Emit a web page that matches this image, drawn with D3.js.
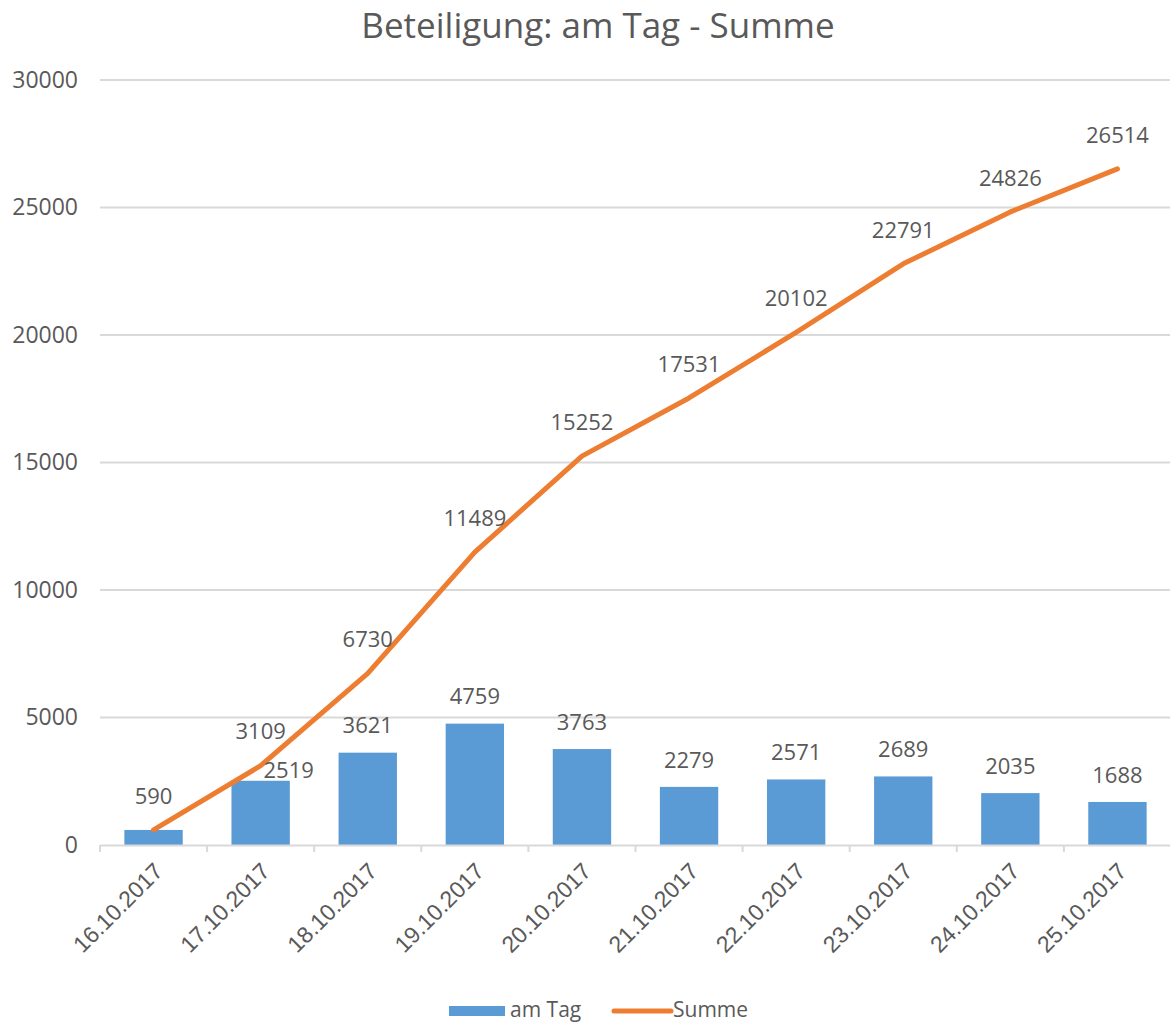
<!DOCTYPE html>
<html lang="de">
<head>
<meta charset="UTF-8">
<title>Beteiligung: am Tag - Summe</title>
<script src="https://d3js.org/d3.v7.min.js"></script>
<style>
  body { margin: 0; background: #fff; }
  svg { display: block; font-family: "Open Sans", sans-serif; }
  .grid line { stroke: #d9d9d9; stroke-width: 2px; }
  .axis text, .label, .legend text { fill: #595959; }
</style>
</head>
<body>
<svg width="1170" height="1024"></svg>
<script>
const dates = ["16.10.2017", "17.10.2017", "18.10.2017", "19.10.2017", "20.10.2017",
               "21.10.2017", "22.10.2017", "23.10.2017", "24.10.2017", "25.10.2017"];
const amTag = [590, 2519, 3621, 4759, 3763, 2279, 2571, 2689, 2035, 1688];
const summe = [590, 3109, 6730, 11489, 15252, 17531, 20102, 22791, 24826, 26514];
const yTicks = [0, 5000, 10000, 15000, 20000, 25000, 30000];

const svg = d3.select("svg");
const plotL = 100, plotR = 1171, plotT = 80, plotB = 845;

const x = d3.scaleBand().domain(dates).range([plotL, plotR]).paddingInner(0.455).paddingOuter(0.2275);
const xc = d => x(d) + x.bandwidth() / 2;
const y = d3.scaleLinear().domain([0, 30000]).range([plotB, plotT]);

// titel
svg.append("text")
  .attr("x", 598).attr("y", 38)
  .attr("text-anchor", "middle")
  .attr("fill", "#595959")
  .style("font-size", "35px")
  .text("Beteiligung: am Tag - Summe");

// gitter
svg.append("g").attr("class", "grid")
  .selectAll("line").data(yTicks.slice(1)).enter().append("line")
  .attr("x1", plotL).attr("x2", plotR)
  .attr("y1", d => y(d)).attr("y2", d => y(d));

// y-achse (nur beschriftung)
const yAxis = svg.append("g").attr("class", "axis")
  .attr("transform", `translate(${plotL},0)`)
  .call(d3.axisLeft(y).tickValues(yTicks).tickSize(0).tickPadding(22).tickFormat(d3.format("d")));
yAxis.select(".domain").remove();
yAxis.selectAll("text").style("font-size", "23px").style("font-family", "Open Sans");

// balken
svg.append("g").selectAll("rect").data(amTag).enter().append("rect")
  .attr("x", (d, i) => x(dates[i]))
  .attr("width", x.bandwidth())
  .attr("y", d => y(d))
  .attr("height", d => y(0) - y(d))
  .attr("fill", "#5b9bd5");

// x-achse
const xAxis = svg.append("g").attr("class", "axis")
  .attr("transform", `translate(0,${plotB})`)
  .call(d3.axisBottom(x).tickSize(0).tickFormat(""));
xAxis.select(".domain").attr("stroke", "#d9d9d9").attr("stroke-width", 2);
xAxis.selectAll(".tick").remove();
const step = x.step();
xAxis.selectAll("line.sep").data(d3.range(dates.length + 1)).enter().append("line")
  .attr("class", "sep")
  .attr("x1", i => plotL + i * step).attr("x2", i => plotL + i * step)
  .attr("y1", 0).attr("y2", 7)
  .attr("stroke", "#d9d9d9").attr("stroke-width", 2);
xAxis.selectAll("text.lbl").data(dates).enter().append("text")
  .attr("class", "lbl")
  .attr("transform", d => `translate(${xc(d) + 5},${22}) rotate(-45)`)
  .attr("text-anchor", "end")
  .attr("dy", "0.35em")
  .attr("fill", "#595959")
  .style("font-size", "23px")
  .text(d => d);

// linie
const line = d3.line().x((d, i) => xc(dates[i])).y(d => y(d));
svg.append("path").datum(summe)
  .attr("d", line)
  .attr("fill", "none")
  .attr("stroke", "#ed7d31")
  .attr("stroke-width", 5)
  .attr("stroke-linejoin", "round")
  .attr("stroke-linecap", "round");

// datenbeschriftungen (balken; erster wert deckt sich mit der summe)
const barLabels = amTag.map((v, i) => ({ v, i })).filter(d => d.v !== summe[d.i]);
svg.append("g").selectAll("text").data(barLabels).enter().append("text")
  .attr("class", "label")
  .attr("x", d => xc(dates[d.i]) + (d.i === 1 ? 28 : 0))
  .attr("y", d => y(d.v) - (d.i === 1 ? 10 : 27))
  .attr("dy", "0.35em")
  .attr("text-anchor", "middle")
  .style("font-size", "22px")
  .text(d => d.v);

svg.append("g").selectAll("text").data(summe).enter().append("text")
  .attr("class", "label")
  .attr("x", (d, i) => xc(dates[i]))
  .attr("y", d => y(d) - 34)
  .attr("dy", "0.35em")
  .attr("text-anchor", "middle")
  .style("font-size", "22px")
  .text(d => d);

// legende
const lg = svg.append("g").attr("class", "legend");
lg.append("rect").attr("x", 449).attr("y", 1006).attr("width", 56).attr("height", 10).attr("fill", "#5b9bd5");
lg.append("text").attr("x", 510).attr("y", 1017).style("font-size", "21px").text("am Tag");
lg.append("line").attr("x1", 614).attr("x2", 671).attr("y1", 1011).attr("y2", 1011)
  .attr("stroke", "#ed7d31").attr("stroke-width", 5).attr("stroke-linecap", "round");
lg.append("text").attr("x", 673).attr("y", 1017).style("font-size", "21px").text("Summe");
</script>
</body>
</html>
